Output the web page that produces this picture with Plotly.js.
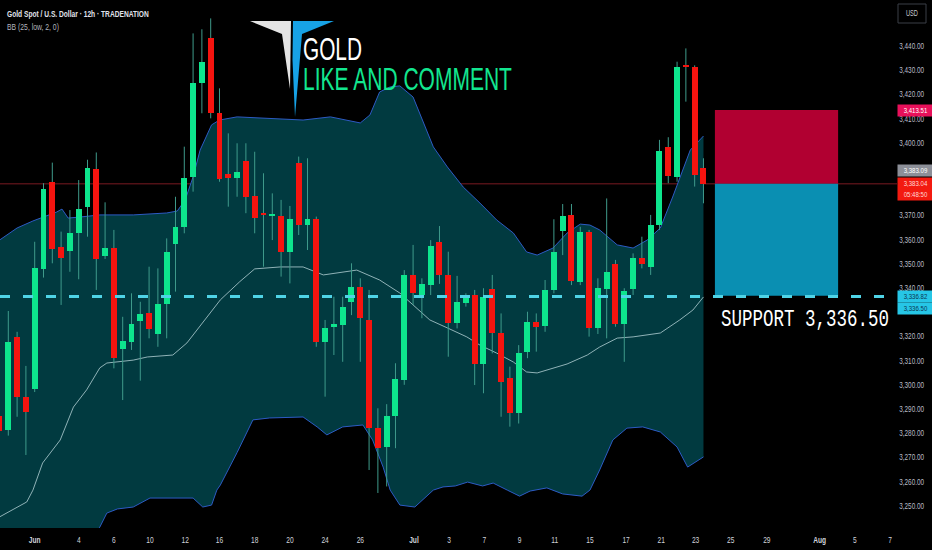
<!DOCTYPE html>
<html><head><meta charset="utf-8">
<script src="https://cdn.plot.ly/plotly-3.0.1.min.js"></script>
<style>html,body{margin:0;padding:0;background:#000;}#chart{width:932px;height:550px;}</style>
</head><body><div id="chart"></div>
<script>
// ---------- DATA ----------
const candleIndex = [0,1,2,3,4,5,6,7,8,9,10,11,12,13,14,15,16,17,18,19,20,21,22,23,24,25,26,27,28,29,30,31,32,33,34,35,36,37,38,39,40,41,42,43,44,45,46,47,48,49,50,51,52,53,54,55,56,57,58,59,60,61,62,63,64,65,66,67,68,69,70,71,72,73,74,75,76,77,78,79,80];
const opens  = [3287,3281.3,3319.6,3294.8,3298.1,3347.9,3383.9,3356.8,3355.3,3362.6,3373.3,3389.2,3353.2,3356.4,3314.7,3317.8,3326.5,3329.5,3321,3333.4,3358.2,3365.1,3386,3424.6,3443.2,3412.2,3387.1,3385.3,3392.6,3378,3371.1,3369.8,3369.8,3355,3391.8,3366,3368.4,3317.8,3324,3324.7,3334.3,3340.3,3326.8,3282,3274.2,3287.1,3302,3345.4,3337.1,3341.2,3358.9,3345.4,3325.4,3333.9,3337.1,3308.5,3339.7,3321.5,3302.7,3288.5,3313.7,3326.1,3324.4,3339.2,3363.6,3370.2,3342.6,3363.3,3323.3,3339.5,3349.9,3325.1,3339.5,3352.3,3348.6,3366,3398.4,3386,3432,3431.2,3389.5];
const highs  = [3292,3330.5,3321.9,3307.8,3359.1,3383.3,3391.8,3363.3,3372.2,3384.6,3393,3396,3375.4,3364,3328.1,3337.8,3334.3,3348.8,3348.1,3360.5,3377.7,3398.4,3445.2,3446.9,3451.4,3422.5,3403.9,3399.8,3399.8,3396.3,3387.4,3379.1,3376.4,3373.9,3394.3,3393.6,3369.5,3326.8,3336.4,3336.4,3350.2,3344,3339.2,3290.3,3292,3308.9,3347.4,3357.8,3344,3359.8,3365.6,3355,3345,3337.8,3339.2,3339.9,3345.4,3329.5,3307.5,3316.4,3330.2,3329.5,3343.3,3368.4,3374.7,3374.7,3365.3,3364,3344,3377,3351.6,3339.9,3354.3,3361.2,3370.2,3401.2,3402.3,3433.5,3439,3432,3393.6];
const lows   = [3277,3279,3286.8,3271,3297,3344.3,3350.2,3333,3346.7,3343.6,3361.2,3339.2,3352,3306.8,3293.7,3314.4,3301.7,3319.2,3315.7,3319.2,3338.5,3362.6,3379.8,3412.2,3410.1,3383.9,3373.6,3377.7,3370.9,3362.6,3348.8,3359.8,3344.7,3341.9,3361.9,3355.7,3315.7,3295.1,3312.3,3309.5,3328.8,3309.5,3264.8,3255.3,3258,3273.8,3300,3333,3327.5,3337.1,3341.7,3311.6,3323.3,3332.3,3299.9,3296.5,3313,3286.8,3282.7,3284,3311,3313.7,3321.9,3337.8,3353.6,3341.2,3341.2,3319.9,3321,3319.2,3324,3309.5,3337.1,3348.1,3345.4,3364,3383.3,3383.9,3417,3381.9,3375];
const closes = [3281,3317.8,3295.1,3288.9,3348.1,3380.8,3356.1,3352.5,3362.6,3372.6,3389.5,3352,3356.4,3310.9,3318.2,3325.1,3329.3,3322.9,3333.4,3355,3365.3,3385.3,3424.6,3433.5,3412.2,3384.9,3385.6,3388.1,3377.7,3368.8,3370.2,3370.5,3355,3368.4,3366,3368.4,3317.8,3323.3,3325.1,3332,3340.5,3327.5,3282,3274,3287.1,3302.3,3345.4,3337.8,3341.7,3357.4,3345.4,3325.7,3334.1,3336.7,3308.5,3336.4,3321.3,3301.3,3288.5,3313,3326.1,3323.8,3339.2,3355,3369.9,3343,3363.3,3323.3,3339.9,3346.7,3325.1,3338.9,3352.3,3349.9,3366,3396.7,3386.3,3431.4,3431.3,3386.7,3383.04];

// Bollinger Bands (25, low, 2)
const upperX = [0,2,3.8,6.5,7.1,7.8,9.1,11.4,15.2,19,20.2,21.1,22,22.8,24.1,25,27,30.7,34.5,37.6,41,42.1,43.2,44.4,45.5,47,48.1,49.3,50.9,52.7,54.6,56.5,58.4,59.9,61.1,62.9,64.5,66,67.1,68.2,70.2,72,73.6,75.1,76.5,77.7,78.5,80];
const upperY = [3359.8,3364.8,3367.7,3371.4,3372.6,3368.9,3369.3,3370.2,3370.2,3371,3371.8,3376.4,3385.9,3397,3407.4,3409.4,3410.7,3410.2,3409.4,3410.7,3408.2,3411.5,3421,3423.1,3423.5,3418.9,3409.4,3398.3,3390,3381.7,3375.1,3368.1,3362.7,3354.9,3353.6,3356.5,3362.7,3366.4,3366,3364,3357.8,3356.5,3359.8,3364.8,3377.6,3388.8,3397,3402.8];
const middleX = [0,3.1,3.8,4.9,6.9,8.4,9.9,11.4,12.2,15.2,16.8,19.7,21.3,23.6,25.1,27.3,29,31.9,34.5,36.8,40.6,43.2,45.5,47,48.9,50.9,53.1,54.6,56.5,58.4,59.9,61.1,62.9,64.5,66.8,68.2,70.2,72,75.1,77.3,78.8,80];
const middleY = [3245.4,3251.6,3256.5,3267.7,3277.2,3290.8,3297.9,3307,3309,3310.2,3311.5,3312.3,3317.3,3328.1,3335.1,3342.6,3347.9,3348.7,3348.7,3345.4,3347.4,3343.3,3337.9,3333,3326.8,3323.5,3319.8,3316.4,3313.1,3309.4,3305.3,3304.9,3306.9,3308.6,3312.3,3315.6,3319.3,3319.8,3321.4,3326.8,3330.9,3336.3];
const lowerX = [0,4,8,11.4,12.2,13.4,15.2,17.1,22,23.1,24.1,24.7,25.1,27,28.8,30.7,34.5,36.1,37.2,39,41.3,42.4,43.6,44.4,45.5,47.2,49.3,50.4,51.8,53.2,54.9,56.1,57.7,59.1,60.3,62.2,64,66.2,67.1,68.2,69.7,71.3,73.1,75.1,77,78.2,80];
const lowerY = [3185,3200,3222,3241.2,3247,3248.7,3249.5,3253.2,3253.2,3249.5,3250.3,3256.5,3258.6,3272,3285.5,3286.3,3286.7,3282.6,3279.3,3282.6,3283.4,3277.2,3266,3256.5,3250.3,3249.5,3256.5,3257.8,3258.2,3259.8,3258.2,3259.4,3256.5,3254,3256.1,3257.4,3254.9,3254,3256.5,3264.8,3277.2,3282.1,3282.6,3280.5,3274.3,3266,3270.2];

// time axis
const xTickPos  = [4,9,13,17.1,21.1,25,29,33,37,41,47.1,51.1,55.1,59.1,63.1,67.1,71.2,75.2,79.1,83.1,87.2,93.2,97.2,101.2];
const xTickText = ['<b>Jun</b>','4','6','10','12','16','18','20','24','26','<b>Jul</b>','3','7','9','11','15','17','21','23','25','29','<b>Aug</b>','5','7'];
// price axis (3,330 / 3,380 / 3,390 sit under the price labels)
const yTickVals = [3250,3260,3270,3280,3290,3300,3310,3320,3340,3350,3360,3370,3400,3410,3420,3430,3440];
const yTickText = ['3,250.00','3,260.00','3,270.00','3,280.00','3,290.00','3,300.00','3,310.00','3,320.00','3,340.00','3,350.00','3,360.00','3,370.00','3,400.00','3,410.00','3,420.00','3,430.00','3,440.00'];

// trade levels
const lastPrice = 3383.04;
const entryPrice = 3383.09;
const stopPrice = 3413.51;
const targetPrice = 3336.82;
const supportLevel = 3336.50;
const positionSpan = [81.3, 95.3];

// ---------- BUILD ----------
const W = 932, PLOT_H = 528;
const px = v => v / W;
const py = v => (PLOT_H - v) / PLOT_H;
const SANS = '"Liberation Sans",Arial,sans-serif';
const MONO = '"Liberation Mono","DejaVu Sans Mono",monospace';
const GREEN = '#0de58d', RED = '#f5140f';
const Y_RANGE = [3240.83, 3459.0];

const wickX = [], wickY = [];
candleIndex.forEach((x, k) => { wickX.push(x, x, null); wickY.push(lows[k], highs[k], null); });
const bodyBase = candleIndex.map((x, k) => Math.min(opens[k], closes[k]));
const bodyLen = candleIndex.map((x, k) => Math.max(Math.abs(closes[k] - opens[k]), 0.6));
const bodyCol = candleIndex.map((x, k) => closes[k] >= opens[k] ? GREEN : RED);

const traces = [
  {x: upperX, y: upperY, type: 'scatter', mode: 'lines', line: {color: '#2d5bc4', width: 1}, hoverinfo: 'skip'},
  {x: lowerX, y: lowerY, type: 'scatter', mode: 'lines', line: {color: '#2d5bc4', width: 1}, fill: 'tonexty', fillcolor: '#013a40', hoverinfo: 'skip'},
  {x: middleX, y: middleY, type: 'scatter', mode: 'lines', line: {color: '#9fbfc4', width: 0.9}, hoverinfo: 'skip'},
  {x: wickX, y: wickY, type: 'scatter', mode: 'lines', line: {color: '#3f9b8b', width: 1}, hoverinfo: 'skip'},
  {x: candleIndex, y: bodyLen, base: bodyBase, type: 'bar', yaxis: 'y2', width: 0.68, marker: {color: bodyCol, line: {width: 0}}, hoverinfo: 'skip'}
];

const shapes = [
  {type: 'line', xref: 'paper', x0: 0, x1: 897 / W, yref: 'y', y0: lastPrice, y1: lastPrice, line: {color: '#7a1a22', width: 1}, layer: 'below'},
  {type: 'rect', xref: 'x', x0: positionSpan[0], x1: positionSpan[1], yref: 'y', y0: entryPrice, y1: stopPrice, fillcolor: '#b10031', line: {width: 0}},
  {type: 'rect', xref: 'x', x0: positionSpan[0], x1: positionSpan[1], yref: 'y', y0: targetPrice, y1: entryPrice, fillcolor: '#0a8fb2', line: {width: 0}},
  {type: 'line', xref: 'paper', x0: 0, x1: 897 / W, yref: 'y', y0: supportLevel, y1: supportLevel, line: {color: '#4fd3e6', width: 3, dash: '10px,13px'}, layer: 'above'},
  // logo
  {type: 'path', xref: 'paper', yref: 'paper', path: `M${px(250)},${py(21)} L${px(291)},${py(21)} L${px(290)},${py(89)} L${px(282)},${py(34)} Z`, fillcolor: '#e4e4e4', line: {width: 0}},
  {type: 'path', xref: 'paper', yref: 'paper', path: `M${px(293)},${py(21)} L${px(334)},${py(21)} L${px(302)},${py(34)} L${px(295)},${py(117)} L${px(292.5)},${py(60)} Z`, fillcolor: '#17a2e6', line: {width: 0}},
  // USD box
  {type: 'rect', xref: 'paper', yref: 'paper', x0: px(898), x1: px(926), y0: py(23), y1: py(4), line: {color: '#3b3e47', width: 1}, fillcolor: '#000'}
];

const lab = (y, text, bg, fg, yshift) => ({xref: 'paper', x: px(897), xanchor: 'left', yref: 'y', y: y, yanchor: 'middle', yshift: yshift, text: text, showarrow: false, bgcolor: bg, width: 33, borderpad: 1.2, align: 'center', font: {family: SANS, size: 8, color: fg}});

const annotations = [
  {xref: 'paper', yref: 'paper', x: px(5), y: py(13), xanchor: 'left', yanchor: 'middle', text: '<b>Gold Spot / U.S. Dollar · 12h · TRADENATION</b>', showarrow: false, font: {family: SANS, size: 9.5, color: '#e0e3eb'}},
  {xref: 'paper', yref: 'paper', x: px(5), y: py(27), xanchor: 'left', yanchor: 'middle', text: 'BB (25, low, 2, 0)', showarrow: false, font: {family: SANS, size: 9, color: '#b2b5be'}},
  {xref: 'paper', yref: 'paper', x: px(912), y: py(13.5), xanchor: 'center', yanchor: 'middle', text: 'USD', showarrow: false, font: {family: SANS, size: 8.5, color: '#c8cad0'}},
  {xref: 'paper', yref: 'paper', x: px(302), y: py(49), xanchor: 'left', yanchor: 'middle', height: 26, borderpad: 0, text: 'GOLD', showarrow: false, font: {family: SANS, size: 31, color: '#ffffff'}},
  {xref: 'paper', yref: 'paper', x: px(302), y: py(79), xanchor: 'left', yanchor: 'middle', height: 26, borderpad: 0, text: 'LIKE AND COMMENT', showarrow: false, font: {family: SANS, size: 31, color: '#12e68f'}},
  {xref: 'paper', yref: 'paper', x: px(719), y: py(319), xanchor: 'left', yanchor: 'middle', text: 'SUPPORT 3,336.50', showarrow: false, font: {family: MONO, size: 24, color: '#ffffff'}},
  lab(stopPrice, '3,413.51', '#e8105a', '#ffffff', 0),
  lab(entryPrice, '3,383.09', '#8c8f98', '#ffffff', 13),
  lab(lastPrice, '3,383.04<br>05:48:50', '#f31a10', '#ffd8d8', -5),
  lab(targetPrice, '3,336.82', '#26c6e6', '#0b3550', -1),
  lab(supportLevel, '3,336.50', '#26c6e6', '#0b3550', -12)
];

const layout = {
  width: 932, height: 550,
  margin: {l: 0, r: 0, t: 0, b: 22, pad: 0},
  paper_bgcolor: '#000', plot_bgcolor: '#000',
  showlegend: false, bargap: 0,
  xaxis: {range: [0.057, 105.97], showgrid: false, zeroline: false, showline: false, ticks: '',
          tickmode: 'array', tickvals: xTickPos, ticktext: xTickText,
          tickfont: {family: SANS, size: 8.5, color: '#d1d4dc'}, ticklabelstandoff: 6, fixedrange: true},
  yaxis: {range: Y_RANGE, side: 'right', showgrid: false, zeroline: false, showline: false, ticks: '',
          tickmode: 'array', tickvals: yTickVals, ticktext: yTickText, ticklabelposition: 'inside',
          ticklabelstandoff: 5, tickfont: {family: SANS, size: 8.4, color: '#b8bbc4'}, fixedrange: true},
  yaxis2: {range: Y_RANGE, overlaying: 'y', side: 'right', visible: false, fixedrange: true},
  shapes: shapes,
  annotations: annotations
};

// Squeeze text horizontally (the reference screenshot uses a narrow rendering)
function squeeze(el, sx, mode) {
  const b = el.getBBox();
  const ax = mode === 'left' ? b.x : mode === 'right' ? b.x + b.width : b.x + b.width / 2;
  const prev = el.getAttribute('transform') || '';
  el.setAttribute('transform', prev + ` translate(${ax} 0) scale(${sx} 1) translate(${-ax} 0)`);
}
function fitWidth(el, w, mode) {
  const b = el.getBBox();
  if (b.width > 0) squeeze(el, w / b.width, mode);
}

Plotly.newPlot('chart', traces, layout, {displayModeBar: false, staticPlot: true}).then(gd => {
  const targets = {0: [142, 'left'], 1: [52, 'left'], 2: [12, 'center'], 3: [59, 'left'], 4: [209, 'left'], 5: [168, 'left'],
                   6: [24, 'center'], 7: [24, 'center'], 8: [24, 'center'], 9: [24, 'center'], 10: [24, 'center']};
  Object.keys(targets).forEach(i => {
    const el = gd.querySelector(`g.annotation[data-index="${i}"] text`);
    if (el) fitWidth(el, targets[i][0], targets[i][1]);
  });
  gd.querySelectorAll('g.ytick text').forEach(el => squeeze(el, 0.76, 'right'));
  gd.querySelectorAll('g.xtick text').forEach(el => squeeze(el, 0.78, 'center'));
});
</script>
</body></html>
